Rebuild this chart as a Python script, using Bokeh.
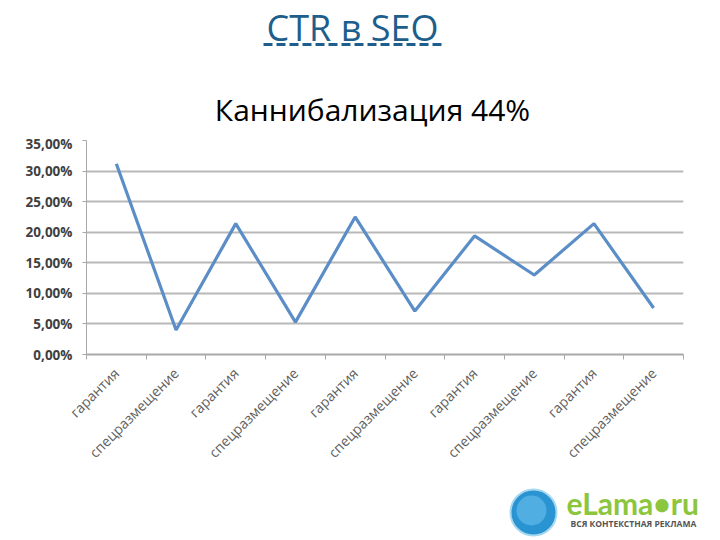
import numpy as np
from bokeh.plotting import figure
from bokeh.layouts import column, row
from bokeh.models import FixedTicker, Range1d
from bokeh.core.properties import value
from bokeh.embed import file_html
from bokeh.resources import INLINE

categories = ["гарантия", "спецразмещение"] * 5
ctr_values = [31.2, 4.0, 21.4, 5.3, 22.5, 7.1, 19.4, 13.0, 21.4, 7.6]
y_ticks = [0, 5, 10, 15, 20, 25, 30, 35]
y_tick_labels = ["0,00%", "5,00%", "10,00%", "15,00%", "20,00%", "25,00%", "30,00%", "35,00%"]
title_text = "CTR в SEO"
subtitle_text = "Каннибализация 44%"

W = 712
TOP_H, CHART_H, LOGO_H = 134, 348, 56


def blank(h):
    f = figure(width=W, height=h, output_backend="svg", toolbar_location=None, title=None,
               x_range=Range1d(0, W), y_range=Range1d(h, 0),
               x_axis_location=None, y_axis_location=None,
               min_border=0, min_border_left=0, min_border_right=0,
               min_border_top=0, min_border_bottom=0)
    f.grid.visible = False
    f.outline_line_color = None
    return f


# ---- titles ----
top = blank(TOP_H)
top.text(x=[352], y=[27], text=[title_text], text_font=value("Open Sans"),
         text_font_size="36px", text_color="#1d5e8c", text_align="center",
         text_baseline="middle")
top.line(x=[263, 442], y=[44, 44], line_color="#1d5e8c", line_width=3, line_dash="9 4")
top.text(x=[372], y=[109], text=[subtitle_text], text_font=value("Open Sans"),
         text_font_size="30px", text_color="#000000", text_align="center",
         text_baseline="middle")

# ---- chart ----
p = figure(width=W, height=CHART_H, output_backend="svg", toolbar_location=None, title=None,
           x_range=Range1d(0, len(categories)), y_range=Range1d(0, 35),
           min_border_left=86, min_border_right=29, min_border_top=6, min_border_bottom=128)
p.outline_line_color = None

xs = [i + 0.5 for i in range(len(categories))]
p.line(xs, ctr_values, line_color="#5b8ec6", line_width=3.2)

p.yaxis.ticker = FixedTicker(ticks=y_ticks, minor_ticks=[])
p.yaxis.major_label_overrides = {t: l for t, l in zip(y_ticks, y_tick_labels)}
p.yaxis.major_label_text_font = "Open Sans"
p.yaxis.major_label_text_font_size = "13.5px"
p.yaxis.major_label_text_font_style = "bold"
p.yaxis.major_label_text_color = "#404040"
p.yaxis.axis_line_color = "#a8a8a8"
p.yaxis.major_tick_line_color = "#a8a8a8"
p.yaxis.major_tick_out = 4
p.yaxis.major_tick_in = 0
p.yaxis.major_label_standoff = 10

p.xaxis.ticker = FixedTicker(ticks=xs, minor_ticks=list(range(len(categories) + 1)))
p.xaxis.major_label_overrides = {x: c for x, c in zip(xs, categories)}
p.xaxis.major_label_orientation = np.pi / 4
p.xaxis.major_label_text_font = "Open Sans"
p.xaxis.major_label_text_font_size = "14px"
p.xaxis.major_label_text_color = "#606060"
p.xaxis.major_tick_line_color = None
p.xaxis.minor_tick_line_color = "#a8a8a8"
p.xaxis.minor_tick_out = 5
p.xaxis.minor_tick_in = 0
p.xaxis.axis_line_color = "#a8a8a8"
p.xaxis.axis_line_width = 2
p.xaxis.major_label_standoff = 10

p.xgrid.grid_line_color = None
p.ygrid.grid_line_color = "#b8b8b8"
p.ygrid.grid_line_width = 2

# ---- logo ----
logo = blank(LOGO_H)
logo.scatter(x=[533], y=[30], size=46, marker="circle", fill_color="#2a93d2",
             line_color="#a8d8f0", line_width=2)
logo.scatter(x=[531], y=[28], size=30, marker="circle", fill_color="#6cc0ec",
             line_color=None, fill_alpha=0.6)
logo.text(x=[566], y=[20], text=["eLama•ru"], text_font=value("Lato"),
          text_font_size="30px", text_font_style="bold", text_color="#8cc63e",
          text_baseline="middle")
logo.text(x=[570], y=[41], text=["ВСЯ КОНТЕКСТНАЯ РЕКЛАМА"], text_font=value("Open Sans"),
          text_font_size="8.5px", text_font_style="bold", text_color="#555555",
          text_baseline="middle")

layout = column(row(top), row(p), row(logo), spacing=0)
open("out.html", "w").write(file_html(layout, INLINE))
